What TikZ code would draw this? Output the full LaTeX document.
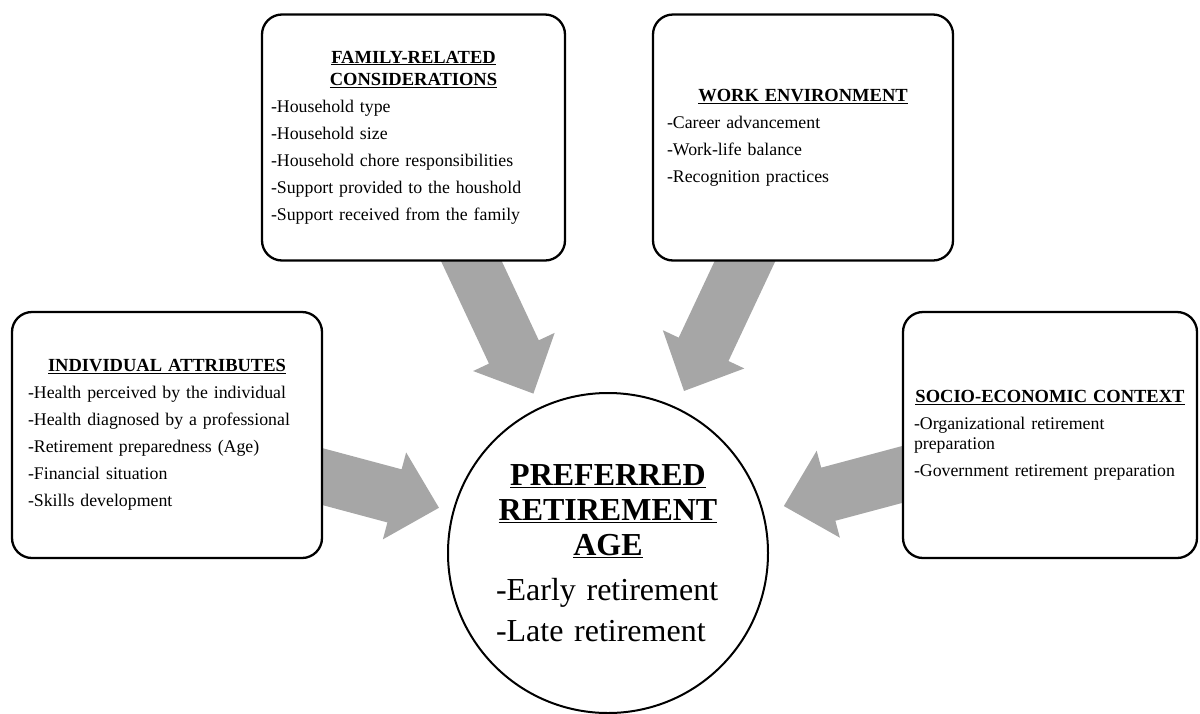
\documentclass[tikz,border=0pt]{standalone}
\usepackage{fontspec}
\setmainfont{Liberation Serif}
\usetikzlibrary{calc,backgrounds}
\definecolor{arrowgray}{RGB}{166,166,166}
\newcommand{\boxtitle}[1]{\underline{\fontsize{18.5}{27}\selectfont\textbf{#1}}}

\begin{document}
\begin{tikzpicture}[x=1pt,y=-1pt,
    factor/.style={draw,line width=2.3pt,rounded corners=20pt,fill=white,
      minimum height=246pt,inner ysep=0pt,align=left,
      font=\fontsize{17.8}{27}\selectfont},
    agecircle/.style={draw,circle,line width=2pt,fill=white,inner sep=0pt,
      minimum size=320pt,text width=224pt,align=left,
      font=\fontsize{32}{35}\selectfont}]
    \useasboundingbox (0,0) rectangle (1200,713);

    % Factor boxes
    \node[factor,text width=285pt,inner xsep=9pt] (fam) at (413.5,137.5)
      {{\centering\boxtitle{FAMILY-RELATED}\\[-5pt]
        \boxtitle{CONSIDERATIONS}\par}
       -Household type\\
       -Household size\\
       -Household chore responsibilities\\
       -Support provided to the houshold\\
       -Support received from the family};
    \node[factor,text width=272pt,inner xsep=14pt] (work) at (803,137.5)
      {{\centering\boxtitle{WORK ENVIRONMENT}\par}
       -Career advancement\\
       -Work-life balance\\
       -Recognition practices};
    \node[factor,text width=278pt,inner xsep=16pt] (indiv) at (167,435)
      {{\centering\boxtitle{INDIVIDUAL ATTRIBUTES}\par}
       -Health perceived by the individual\\
       -Health diagnosed by a professional\\
       -Retirement preparedness (Age)\\
       -Financial situation\\
       -Skills development};
    \node[factor,text width=272pt,inner xsep=11pt] (socio) at (1050,435)
      {{\centering\boxtitle{SOCIO-ECONOMIC CONTEXT}\par}
       -Organizational retirement\\[-7pt]
       preparation\\
       -Government retirement preparation};

    % Outcome
    \node[agecircle] (age) at (608,553)
      {{\centering\underline{\textbf{PREFERRED}}\\
        \underline{\textbf{RETIREMENT}}\\
        \underline{\textbf{AGE}}\par}
       \vspace{10pt}-Early retirement\\[6pt]
       -Late retirement};

    % Block arrows, behind the boxes
    \begin{scope}[on background layer]
      \foreach \src/\gap in {fam/176pt,work/179pt,indiv/175pt,socio/182pt}{
        \coordinate (s) at (\src.center);
        \coordinate (t) at ($(age.center)!\gap!(s)$);
        \coordinate (b) at ($(t)!46pt!(s)$);
        \fill[arrowgray] ($(s)!27.5pt!90:(t)$) -- ($(b)!27.5pt!90:(t)$)
          -- ($(b)!45pt!90:(t)$) -- (t) -- ($(b)!45pt!-90:(t)$)
          -- ($(b)!27.5pt!-90:(t)$) -- ($(s)!27.5pt!-90:(t)$) -- cycle;
      }
    \end{scope}
\end{tikzpicture}
\end{document}
